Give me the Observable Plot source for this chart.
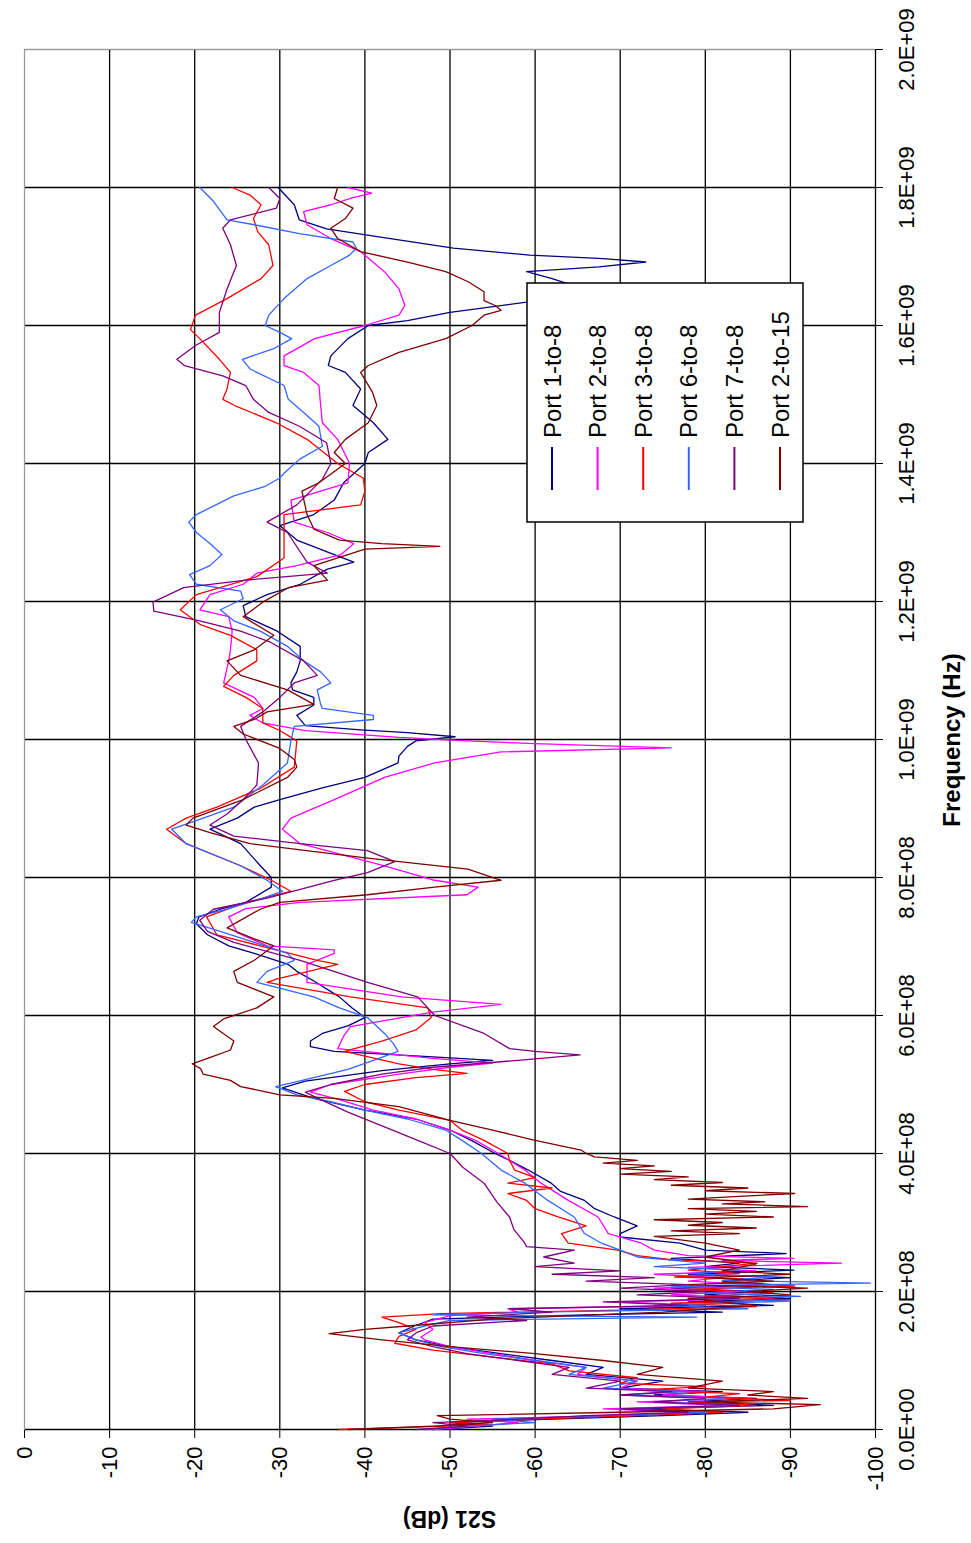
<!DOCTYPE html>
<html><head><meta charset="utf-8">
<script src="https://cdn.jsdelivr.net/npm/d3@7"></script>
<script src="https://cdn.jsdelivr.net/npm/@observablehq/plot@0.6"></script>
<style>
html,body{margin:0;padding:0;background:#fff;}
#wrap{position:relative;width:971px;height:1543px;overflow:hidden;background:#fff;}
#wrap svg{position:absolute;left:0;top:0;max-width:none !important;width:1543px !important;height:971px !important;transform-origin:0 0;transform:translate(0px,1543px) rotate(-90deg);}
</style></head><body><div id="wrap"></div>
<script>
const seriesNames = ["Port 1-to-8", "Port 2-to-8", "Port 3-to-8", "Port 6-to-8", "Port 7-to-8", "Port 2-to-15"];
const seriesColors = ["#000080", "#FF00FF", "#FF0000", "#3366FF", "#800080", "#800000"];

// [frequency MHz, S21 dB]
const port1to8 = [[0,-48],[5,-55],[10,-50],[15,-62],[20,-75],[25,-85],[30,-72],[35,-88],[40,-78],[45,-86],[50,-74],[55,-82],[60,-70],[70,-75],[80,-66],[90,-68],[100,-62],[110,-56],[120,-50],[130,-46],[140,-44],[150,-45.8],[160,-48],[165,-62],[170,-82],[175,-70],[180,-88],[185,-78],[190,-90],[195,-80],[200,-86],[205,-76],[210,-88],[215,-82],[220,-90],[225,-78],[231,-90.4],[236,-80],[241,-84],[248,-76],[255,-89.5],[260,-80],[270,-77],[279,-70],[284,-70],[295,-72],[308,-69.3],[320,-67],[332,-65.8],[345,-63],[357,-61.9],[376,-59.2],[390,-57],[400,-55.3],[419,-52.5],[434,-50],[450,-46],[463,-40],[480,-34],[495,-30.3],[505,-33],[520,-42],[530,-50],[535,-55],[540,-48],[548,-36.4],[555,-33.6],[563,-33.6],[574,-35],[585,-38],[597,-40],[611,-38.5],[627,-37],[650,-34],[664,-32],[674,-31],[690,-27],[701,-24],[717,-21.5],[733,-20.2],[743,-20.5],[754,-23],[764,-26],[786,-29],[800,-29],[820,-27.5],[849,-25.4],[870,-21.8],[886,-25],[902,-27],[913,-30],[930,-35],[945,-40],[966,-43.9],[976,-44],[990,-45],[998,-46],[1004,-50.6],[1010,-45],[1014,-39.5],[1020,-33],[1035,-32],[1050,-34],[1061,-34],[1072,-31.5],[1082,-31.3],[1098,-32],[1114,-32.4],[1135,-32.4],[1157,-29.7],[1178,-26],[1194,-25.7],[1210,-28.5],[1225,-32.4],[1247,-35.6],[1257,-38.7],[1268,-36.4],[1289,-32],[1310,-30],[1326,-34],[1347,-36.4],[1372,-37.5],[1400,-40],[1416,-40.4],[1435,-42.7],[1459,-41],[1484,-38.6],[1508,-39.5],[1532,-37.7],[1542,-35.7],[1556,-36],[1581,-38],[1600,-40.4],[1607,-45],[1619,-50],[1634,-59],[1650,-60],[1660,-64],[1668,-62],[1678,-59],[1685,-67.5],[1692,-73],[1697,-68],[1702,-59.4],[1712,-50.4],[1726,-43],[1740,-35.5],[1753,-32.3],[1775,-31.7],[1800,-29.8]];

const port2to8 = [[0,-48],[5,-53],[10,-58],[15,-52],[20,-70],[25,-78],[30,-68],[35,-82],[40,-72],[45,-85],[50,-75],[55,-80],[60,-70],[70,-72],[80,-65],[90,-66],[100,-60],[110,-55],[120,-50],[130,-47],[134,-46.6],[145,-48],[155,-47],[165,-50],[170,-58],[175,-56.8],[180,-80],[185,-70],[190,-88],[195,-76],[200,-84],[205,-74],[210,-86],[215,-78],[220,-82],[225,-74],[230,-86],[235,-78],[241,-96],[245,-82],[248,-90.4],[252,-78],[260,-74],[270,-72.5],[284,-68.6],[308,-67.4],[332,-63.9],[357,-60.7],[376,-58.8],[400,-55.7],[419,-53],[434,-50],[450,-46],[463,-41],[478,-37],[489,-33.6],[500,-36],[515,-44],[525,-50],[531,-55],[538,-48],[552,-36.8],[570,-37.5],[584,-38.3],[605,-48],[616,-56],[627,-44.3],[648,-33.2],[674,-33.2],[690,-36.4],[695,-36.4],[701,-28.5],[720,-25],[743,-24],[755,-26],[764,-32.4],[775,-52],[786,-53.3],[796,-48.2],[817,-42.3],[849,-32.4],[870,-30.3],[886,-31.3],[913,-36.4],[945,-42.3],[966,-48.2],[982,-56],[988,-76],[994,-60],[998,-52],[1003,-44],[1013,-33],[1024,-28],[1035,-26.5],[1045,-28],[1061,-27],[1082,-23.4],[1114,-24],[1130,-24.2],[1157,-24.4],[1178,-24],[1188,-20.6],[1210,-21.8],[1225,-25.7],[1241,-27.3],[1252,-32],[1268,-37.2],[1284,-38.7],[1300,-35.6],[1315,-31.7],[1347,-31.3],[1372,-38],[1400,-38.2],[1435,-36.8],[1459,-35],[1484,-34.8],[1513,-34.6],[1532,-32.8],[1542,-30.5],[1556,-30.5],[1581,-34.1],[1600,-40],[1615,-44],[1629,-44.7],[1653,-44],[1678,-42.3],[1707,-39.5],[1726,-36],[1746,-33.2],[1765,-32.8],[1775,-36],[1785,-38.5],[1792,-40.8],[1800,-38]];

const port3to8 = [[0,-37],[3,-45],[7,-55],[10,-50],[15,-60],[20,-72],[25,-82],[30,-75],[35,-86],[40,-78],[42,-90],[47,-80],[52,-84],[57,-72],[62,-80],[67,-70],[75,-72],[85,-64],[95,-62],[105,-55],[115,-48],[125,-43.5],[135,-44],[145,-46],[155,-44],[163,-42],[168,-49],[173,-70],[178,-86],[183,-76],[188,-90],[193,-80],[198,-88],[203,-78],[208,-90.5],[213,-82],[218,-86],[221,-76.4],[226,-84],[231,-78],[236,-82],[241,-86.1],[246,-76],[252,-72],[260,-69.7],[270,-63.9],[284,-63.1],[295,-66],[308,-62.7],[320,-60],[332,-59],[342,-56.8],[350,-62],[357,-56.8],[365,-60],[376,-57.6],[390,-57],[400,-56.8],[419,-54],[434,-51.4],[448,-50],[463,-44],[475,-40],[490,-37.6],[500,-40],[510,-46],[516,-52],[522,-48],[530,-44],[548,-37.6],[563,-42],[579,-46],[597,-47.8],[611,-47.4],[627,-38.3],[648,-28.5],[653,-29.7],[674,-36.8],[680,-34.4],[701,-27.7],[717,-22.6],[743,-21.4],[764,-26],[780,-31.3],[796,-29],[817,-25.4],[849,-19],[870,-16.7],[886,-19],[902,-22.6],[929,-27.7],[960,-31.7],[998,-32],[1013,-30],[1024,-28],[1045,-28],[1061,-26],[1077,-23.4],[1093,-24.6],[1114,-27.3],[1130,-27.3],[1151,-24.2],[1167,-20.6],[1188,-18.3],[1210,-20.2],[1236,-27.3],[1263,-30.5],[1300,-30.5],[1326,-30.5],[1340,-39.5],[1360,-40],[1379,-39.8],[1400,-36.8],[1435,-33.2],[1459,-29.6],[1484,-24.7],[1493,-23.3],[1508,-23.8],[1532,-24.2],[1551,-22.9],[1581,-20.6],[1594,-19.5],[1615,-20.1],[1639,-23.8],[1668,-27.8],[1687,-29.2],[1717,-28.7],[1736,-27.4],[1755,-26.9],[1775,-27.8],[1789,-26.5],[1800,-24.4]];

const port6to8 = [[0,-47],[5,-52],[10,-60],[15,-55],[20,-68],[25,-80],[30,-70],[35,-84],[40,-74],[45,-82],[50,-70],[55,-78],[60,-68],[70,-72],[80,-64],[90,-66],[100,-60],[110,-54],[120,-49],[130,-46],[140,-44],[150,-47],[158,-50],[163,-79],[166,-48],[170,-60],[175,-85],[180,-74],[186,-90],[190,-78],[193,-91.2],[198,-80],[203,-88],[208,-76],[212,-99.4],[216,-82],[221,-88],[226,-78],[231,-84],[236,-74],[241,-80],[250,-72],[260,-70],[270,-67.8],[284,-65.8],[308,-64.6],[332,-61.5],[357,-58.8],[376,-56],[400,-53.7],[419,-51.4],[434,-49.5],[450,-45],[463,-40],[475,-36],[485,-32],[497,-29.5],[510,-34],[522,-38],[535,-41],[548,-43.9],[560,-43.3],[574,-42.3],[597,-40.3],[611,-37],[627,-34],[648,-27.3],[664,-28.5],[680,-31.7],[690,-30.9],[706,-27],[722,-23],[735,-19.6],[743,-20.2],[755,-24],[770,-28],[780,-30.3],[796,-28.5],[817,-25.4],[849,-19],[870,-17.3],[886,-21],[902,-24.6],[934,-28],[966,-30.9],[998,-31.3],[1019,-31.7],[1029,-41],[1035,-41],[1045,-35],[1051,-34.8],[1072,-34.4],[1082,-36],[1098,-34.8],[1114,-32.8],[1135,-30.9],[1157,-27.7],[1172,-24.6],[1188,-23],[1204,-25.7],[1215,-25.4],[1225,-20.2],[1239,-19.4],[1252,-21.8],[1268,-23.2],[1284,-21.8],[1300,-20.2],[1315,-19.3],[1326,-20.2],[1353,-24.6],[1367,-28.3],[1379,-30],[1386,-30.5],[1406,-32.3],[1425,-35],[1454,-34.6],[1474,-32.8],[1493,-31],[1513,-30.5],[1537,-26.5],[1551,-25.6],[1566,-29.2],[1581,-31.4],[1590,-30],[1600,-28.3],[1615,-28.7],[1639,-30.5],[1668,-33.2],[1687,-36],[1702,-38.2],[1712,-39],[1721,-38.6],[1733,-32.3],[1746,-27],[1753,-23.8],[1780,-22.2],[1800,-20.6]];

const port7to8 = [[0,-46],[5,-52],[10,-48],[15,-58],[20,-66],[25,-78],[30,-70],[35,-84],[40,-74],[45,-80],[50,-70],[55,-76],[60,-66],[70,-70],[80,-62],[90,-64],[100,-58],[110,-52],[120,-48],[130,-45],[140,-46],[150,-48],[158,-59],[163,-52],[170,-62],[175,-57],[180,-78],[185,-68],[190,-84],[195,-72],[200,-80],[205,-70],[210,-78],[215,-66],[220,-74],[225,-62],[230,-70],[236,-60],[241,-64.6],[250,-61],[260,-64.6],[265,-59],[270,-58.8],[290,-57.5],[308,-57],[330,-55.5],[357,-54],[380,-51.5],[400,-50],[420,-46],[440,-42],[460,-38],[480,-34.5],[489,-33],[500,-36],[515,-42],[525,-48],[535,-58],[543,-65.3],[548,-60],[552,-57],[574,-54],[600,-48.2],[627,-46.2],[648,-40.3],[680,-32.4],[706,-24.6],[722,-21.5],[738,-20.6],[754,-22.2],[770,-28.5],[796,-36.4],[807,-40.3],[823,-43.5],[839,-40.3],[849,-32.4],[860,-24.6],[876,-21.8],[892,-23.8],[913,-25.7],[934,-27.3],[966,-27.5],[998,-26.1],[1019,-25.4],[1040,-28],[1061,-30],[1082,-31.7],[1093,-34.4],[1114,-32.8],[1141,-28.9],[1157,-25.4],[1172,-20.6],[1186,-15.2],[1199,-15.1],[1220,-18.7],[1231,-26],[1241,-35.6],[1257,-33.2],[1300,-30.9],[1315,-28.5],[1340,-32],[1377,-35],[1400,-36],[1430,-35.5],[1454,-32.3],[1474,-28.7],[1493,-26.9],[1513,-26],[1527,-23.3],[1542,-18.8],[1551,-17.9],[1571,-20.1],[1590,-22.9],[1619,-22.9],[1653,-23.8],[1687,-24.9],[1717,-24.2],[1741,-23.3],[1753,-24.2],[1770,-29.6],[1784,-30],[1800,-28.7]];

const port2to15 = [[0,-38],[5,-48],[10,-55],[15,-50],[20,-48.5],[25,-70],[30,-88],[36,-93.5],[40,-80],[45,-92],[50,-85],[55,-88],[60,-78],[70,-82],[80,-72],[90,-75],[100,-68],[110,-60],[120,-50],[130,-42],[139,-35.8],[145,-40],[150,-45],[160,-55],[170,-75],[180,-86],[190,-78],[195,-90],[200,-85],[205,-92],[210,-78],[215,-88],[220,-80],[225,-90],[230,-82],[240,-86],[250,-80],[260,-84],[270,-80],[280,-74],[284,-84],[288,-76],[292,-86],[296,-78],[300,-82],[304,-74],[308,-88],[312,-80],[316,-86],[320,-78],[323,-92],[327,-82],[330,-87],[334,-78],[338,-84],[342,-90.5],[346,-80],[350,-85],[354,-76],[358,-82],[362,-74],[366,-78],[370,-70],[374,-76],[378,-70],[382,-74],[386,-68],[390,-72],[395,-67],[400,-66],[405,-65.4],[419,-60],[434,-55],[448,-50],[468,-44],[480,-36.4],[485,-30],[489,-28.5],[497,-25.4],[506,-24.2],[515,-21],[523,-20.7],[530,-19.7],[540,-22],[550,-24.2],[563,-24.6],[584,-22.2],[595,-23.4],[611,-27.3],[627,-29.3],[648,-25],[664,-24.6],[680,-27],[701,-29.3],[711,-27],[727,-23.8],[754,-27.7],[764,-30],[775,-40.3],[786,-48.2],[796,-56],[812,-52.1],[828,-40.3],[849,-26.5],[865,-21.8],[876,-19],[886,-19.8],[913,-25.7],[945,-30.9],[960,-32],[971,-31.7],[987,-30],[1008,-25.7],[1019,-24.6],[1029,-27],[1040,-28.5],[1051,-34],[1072,-30.9],[1093,-25.4],[1114,-23.8],[1130,-27],[1151,-29.3],[1178,-25.7],[1199,-28],[1220,-31],[1231,-35.6],[1252,-34],[1268,-38],[1276,-40],[1280,-48.8],[1284,-42],[1289,-37],[1305,-34],[1326,-33.2],[1360,-32.6],[1372,-34.6],[1400,-37.7],[1416,-36.4],[1435,-37.7],[1459,-40.4],[1484,-41.4],[1503,-40.9],[1532,-39.5],[1542,-40.4],[1561,-44],[1581,-49.5],[1600,-52.6],[1615,-54],[1622,-56],[1629,-55.3],[1636,-54],[1649,-54],[1663,-52.2],[1678,-49.5],[1692,-45],[1707,-39.5],[1726,-36.8],[1741,-36],[1755,-37.7],[1770,-38.6],[1784,-36.4],[1800,-36.8]];

const freqTicks = [0, 2e8, 4e8, 6e8, 8e8, 1e9, 1.2e9, 1.4e9, 1.6e9, 1.8e9, 2e9];
const freqTickLabels = ["0.0E+00", "2.0E+08", "4.0E+08", "6.0E+08", "8.0E+08", "1.0E+09", "1.2E+09", "1.4E+09", "1.6E+09", "1.8E+09", "2.0E+09"];
const dbTicks = [0, -10, -20, -30, -40, -50, -60, -70, -80, -90, -100];
const dbTickLabels = ["0", "-10", "-20", "-30", "-40", "-50", "-60", "-70", "-80", "-90", "-100"];
const xTitle = "Frequency (Hz)";
const yTitle = "S21 (dB)";

const allSeries = [port1to8, port2to8, port3to8, port6to8, port7to8, port2to15];
const table = allSeries.flatMap((pts, i) => pts.map(([f, db]) => ({series: seriesNames[i], f: f * 1e6, db})));

const W = 1543, H = 971, mL = 113, mR = 50, mT = 24, mB = 96;
const FONT = "'Liberation Sans', Arial, Helvetica, sans-serif";

const chart = Plot.plot({
  width: W, height: H,
  marginLeft: mL, marginRight: mR, marginTop: mT, marginBottom: mB,
  style: {fontFamily: FONT, fontSize: "22px", background: "white", color: "#000", maxWidth: "none"},
  x: {domain: [0, 2e9], ticks: freqTicks, tickFormat: d => freqTickLabels[freqTicks.indexOf(d)], tickSize: 8, tickPadding: 15, label: null},
  y: {domain: [-100, 0], ticks: dbTicks, tickFormat: d => dbTickLabels[dbTicks.indexOf(d)], tickSize: 8, tickPadding: 9, label: null},
  color: {domain: seriesNames, range: seriesColors},
  marks: [
    Plot.ruleX(freqTicks, {x: d => d, stroke: d => d === 2e9 ? "#9a9a9a" : "#000", strokeWidth: 1.3}),
    Plot.ruleY(dbTicks, {y: d => d, stroke: d => d === 0 ? "#9a9a9a" : "#000", strokeWidth: 1.3}),
    Plot.line(table, {x: "f", y: "db", z: "series", stroke: "series", strokeWidth: 1.3})
  ]
});

const svg = d3.select(chart);
// axis titles
svg.append("text").attr("x", mL + (W - mL - mR) / 2).attr("y", 952).attr("dy", "0.35em")
  .attr("text-anchor", "middle").attr("font-weight", "bold").attr("font-size", 24).attr("fill", "#000").text(xTitle);
svg.append("text").attr("transform", `translate(24,${mT + (H - mT - mB) / 2}) rotate(-90)`).attr("dy", "0.35em")
  .attr("text-anchor", "middle").attr("font-weight", "bold").attr("font-size", 23).attr("fill", "#000").text(yTitle);
// legend
const lg = svg.append("g");
lg.append("rect").attr("x", 1021).attr("y", 527).attr("width", 239).attr("height", 276)
  .attr("fill", "white").attr("stroke", "#000").attr("stroke-width", 1.5);
seriesNames.forEach((name, i) => {
  const v = 552 + i * 45.6;
  lg.append("line").attr("x1", 1053).attr("x2", 1096).attr("y1", v).attr("y2", v)
    .attr("stroke", seriesColors[i]).attr("stroke-width", 2);
  lg.append("text").attr("x", 1105).attr("y", v).attr("dy", "0.36em").attr("font-size", 24)
    .attr("text-anchor", "start").attr("fill", "#000").text(name);
});

document.getElementById("wrap").appendChild(chart);
</script>
</body></html>
